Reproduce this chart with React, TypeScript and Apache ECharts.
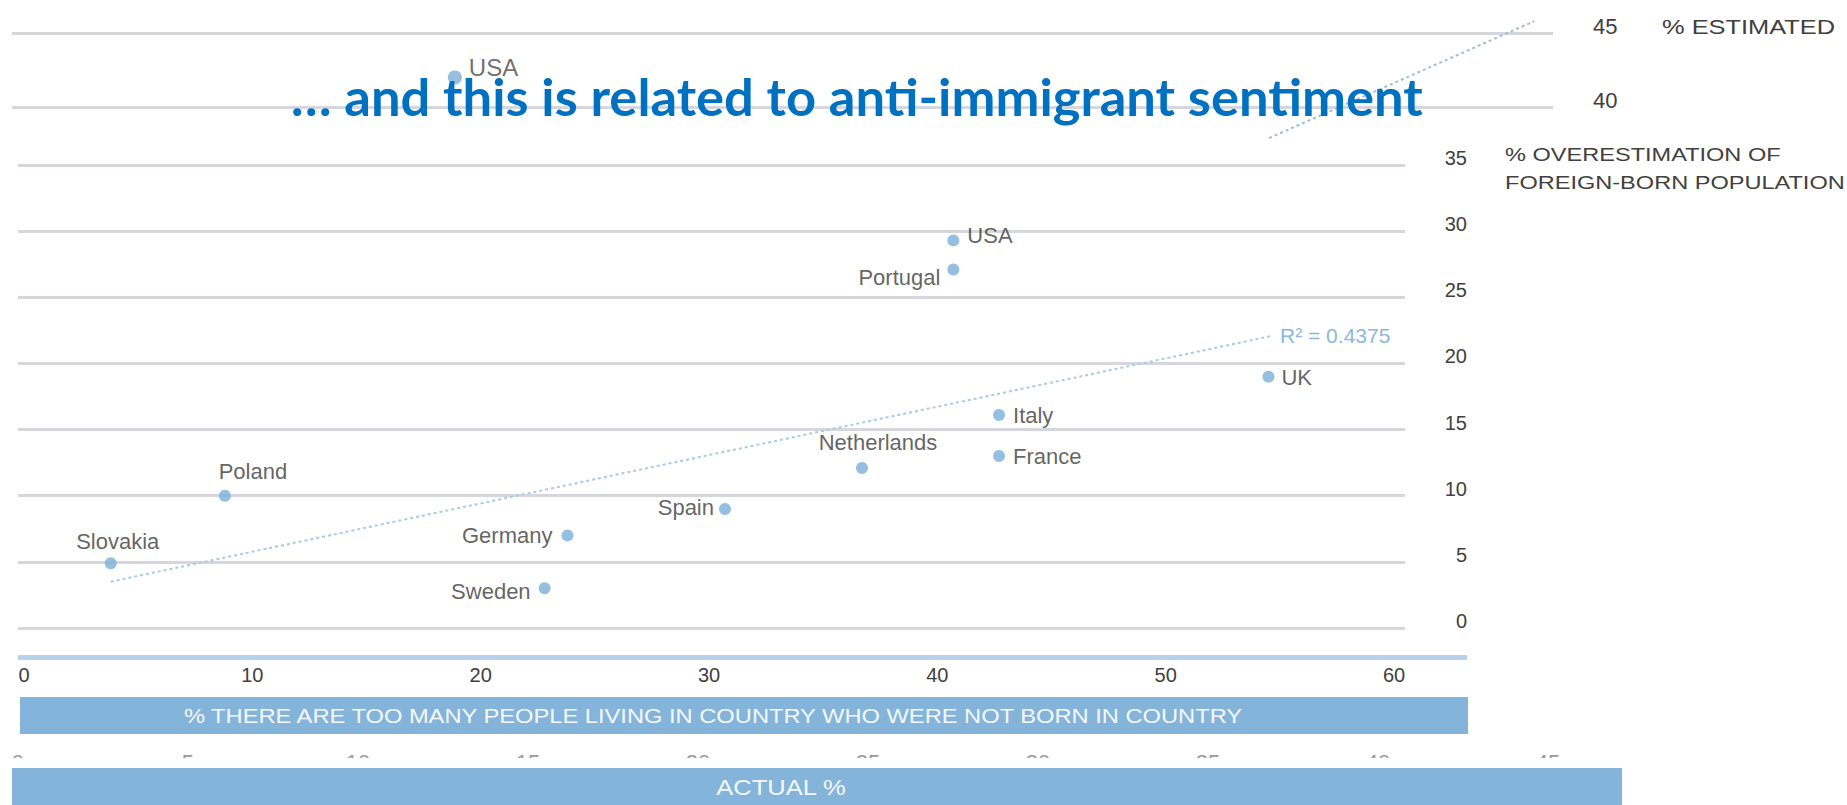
import React, { useEffect, useRef } from "react";
import * as echarts from "echarts";

// ---------- data ----------
const TITLE = "\u2026 and this is related to anti-immigrant sentiment";

// Front chart: % overestimation vs % "too many people not born in country"
const countries = ["Slovakia", "Poland", "Germany", "Sweden", "Spain", "Netherlands", "USA", "Portugal", "Italy", "France", "UK"];
const tooManyPct = [3.8, 8.8, 23.8, 22.8, 30.7, 36.7, 40.7, 40.7, 42.7, 42.7, 54.5];
const overestimationPct = [4.9, 10.0, 7.0, 3.0, 9.0, 12.1, 29.3, 27.1, 16.1, 13.0, 19.0];
const trendX = [3.8, 54.7];
const trendY = [3.5, 22.1];
const frontXTicks = [0, 10, 20, 30, 40, 50, 60];
const R2_LABEL = "R\u00B2 = 0.4375";
const frontYName = "% OVERESTIMATION OF\nFOREIGN-BORN POPULATION";
const frontXName = "% THERE ARE TOO MANY PEOPLE LIVING IN COUNTRY WHO WERE NOT BORN IN COUNTRY";

// Background chart (previous slide): estimated % vs actual %
const bgCountries = ["USA"];
const bgActual = [12.85];
const bgEstimated = [42.0];
const bgTrendX = [36.8, 44.6];
const bgTrendY = [37.9, 45.8];
const bgXTicks = [0, 5, 10, 15, 20, 25, 30, 35, 40, 45];
const bgYName = "% ESTIMATED";
const bgXName = "ACTUAL %";

// label placement (style only)
const labelPlacement: Record<string, { position: string; offset: [number, number] }> = {
  Slovakia: { position: "top", offset: [7, 0] },
  Poland: { position: "top", offset: [28, -2] },
  Germany: { position: "left", offset: [-4, 0] },
  Sweden: { position: "left", offset: [-3, 3] },
  Spain: { position: "left", offset: [0, -1] },
  Netherlands: { position: "top", offset: [16, -3] },
  USA: { position: "right", offset: [3, -5] },
  Portugal: { position: "left", offset: [-2, 8] },
  Italy: { position: "right", offset: [3, 0] },
  France: { position: "right", offset: [3, 0] },
  UK: { position: "right", offset: [2, 1] },
};

const SANS = "'Liberation Sans', Arial, sans-serif";
const GRID_LINE = "#d6d6de";
const POINT = "#7aafd9";
const BAND = "#84b4da";

export default function App() {
  const ref = useRef<HTMLDivElement>(null);

  useEffect(() => {
    if (!ref.current) return;
    const chart = echarts.init(ref.current, undefined, { renderer: "svg" });

    const option: any = {
      animation: false,
      backgroundColor: "#ffffff",
      title: {
        text: TITLE,
        left: 291,
        top: 69,
        padding: 0,
        z: 20,
        textStyle: { fontFamily: "Lato, 'Open Sans', sans-serif", fontWeight: "bold", fontSize: 52.5, color: "#0070C0" },
      },
      grid: [
        { left: 12, top: 33, width: 1541, height: 666, z: 0 },
        { left: 18, top: 165, width: 1387, height: 463, z: 4 },
      ],
      xAxis: [
        {
          gridIndex: 0,
          type: "value",
          min: -0.176,
          max: 45.15,
          z: 0,
          splitLine: { show: false },
          axisLine: { show: false },
          axisTick: { show: false },
          axisLabel: { customValues: bgXTicks, margin: 52, fontSize: 22, color: "#9a9a9a", fontFamily: SANS },
        },
        {
          gridIndex: 1,
          type: "value",
          min: -0.263,
          max: 60.48,
          z: 4,
          splitLine: { show: false },
          axisLine: { show: false },
          axisTick: { show: false },
          axisLabel: { customValues: frontXTicks, margin: 37, fontSize: 20, color: "#404040", fontFamily: SANS },
        },
      ],
      yAxis: [
        {
          gridIndex: 0,
          type: "value",
          min: 0,
          max: 45,
          interval: 5,
          position: "right",
          z: 0,
          axisLine: { show: false },
          axisTick: { show: false },
          splitLine: { lineStyle: { color: GRID_LINE, width: 3 } },
          axisLabel: {
            margin: 40,
            fontSize: 22,
            color: "#404040",
            fontFamily: SANS,
            verticalAlign: "bottom",
            lineHeight: 14,
          },
        },
        {
          gridIndex: 1,
          type: "value",
          min: 0,
          max: 35,
          interval: 5,
          position: "right",
          z: 4,
          axisLine: { show: false },
          axisTick: { show: false },
          splitLine: { lineStyle: { color: GRID_LINE, width: 3 } },
          axisLabel: {
            margin: 62,
            align: "right",
            fontSize: 20,
            color: "#404040",
            fontFamily: SANS,
            verticalAlign: "bottom",
            lineHeight: 14,
          },
        },
      ],
      series: [
        {
          type: "line",
          xAxisIndex: 0,
          yAxisIndex: 0,
          z: 1,
          clip: false,
          symbol: "none",
          data: bgTrendX.map((x, i) => [x, bgTrendY[i]]),
          lineStyle: { type: [3, 3], width: 2, color: "#a3bcd6" },
        },
        {
          type: "scatter",
          xAxisIndex: 0,
          yAxisIndex: 0,
          z: 1,
          symbolSize: 14,
          itemStyle: { color: POINT },
          data: bgCountries.map((c, i) => ({ name: c, value: [bgActual[i], bgEstimated[i]] })),
          label: {
            show: true,
            formatter: "{b}",
            position: "right",
            distance: 5,
            offset: [2, -10],
            fontSize: 24,
            color: "#4a4a4a",
            fontFamily: SANS,
          },
        },
        {
          type: "line",
          xAxisIndex: 1,
          yAxisIndex: 1,
          z: 5,
          symbol: "none",
          data: trendX.map((x, i) => [x, trendY[i]]),
          lineStyle: { type: [3, 3], width: 2, color: "#a9c9e6" },
          endLabel: {
            show: true,
            formatter: R2_LABEL,
            distance: 7,
            fontSize: 21,
            color: "#8db7dd",
            fontFamily: SANS,
          },
        },
        {
          type: "scatter",
          xAxisIndex: 1,
          yAxisIndex: 1,
          z: 5,
          symbolSize: 12,
          itemStyle: { color: POINT },
          data: countries.map((c, i) => ({
            name: c,
            value: [tooManyPct[i], overestimationPct[i]],
            label: { position: labelPlacement[c].position, offset: labelPlacement[c].offset },
          })),
          label: {
            show: true,
            formatter: "{b}",
            distance: 5,
            fontSize: 22,
            color: "#3b3b3b",
            fontFamily: SANS,
          },
        },
      ],
      graphic: [
        // front image white background covering the background chart
        { type: "rect", z: 3, shape: { x: 0, y: 140, width: 1847, height: 614 }, style: { fill: "#ffffff" } },
        { type: "rect", z: 3, shape: { x: 0, y: 758, width: 1847, height: 10 }, style: { fill: "#ffffff" } },
        // background y axis name
        {
          type: "text",
          z: 2,
          x: 1662,
          y: 27,
          scaleX: 1.21,
          style: { text: bgYName, fontSize: 21, fontFamily: SANS, fill: "#404040", verticalAlign: "middle", align: "left" },
        },
        // background x axis band
        { type: "rect", z: 6, shape: { x: 12, y: 768, width: 1610, height: 37 }, style: { fill: BAND } },
        {
          type: "text",
          z: 7,
          x: 781,
          y: 787,
          scaleX: 1.16,
          style: { text: bgXName, fontSize: 22, fontFamily: SANS, fill: "#f4f8fc", align: "center", verticalAlign: "middle" },
        },
        // front axis bar
        { type: "rect", z: 6, shape: { x: 18, y: 655, width: 1449, height: 5 }, style: { fill: "#b7d2ea" } },
        // front x axis band
        { type: "rect", z: 6, shape: { x: 20, y: 697, width: 1448, height: 37 }, style: { fill: BAND } },
        {
          type: "text",
          z: 7,
          x: 713,
          y: 716,
          scaleX: 1.128,
          style: { text: frontXName, fontSize: 21, fontFamily: SANS, fill: "#f4f8fc", align: "center", verticalAlign: "middle" },
        },
        // front y axis name
        {
          type: "text",
          z: 7,
          x: 1505,
          y: 169,
          scaleX: 1.24,
          style: {
            text: frontYName,
            fontSize: 19,
            lineHeight: 28,
            fontFamily: SANS,
            fill: "#404040",
            align: "left",
            verticalAlign: "middle",
          },
        },
      ],
    };

    chart.setOption(option);
    return () => chart.dispose();
  }, []);

  return <div ref={ref} style={{ position: "fixed", left: 0, top: 0, width: 1847, height: 805 }} />;
}
